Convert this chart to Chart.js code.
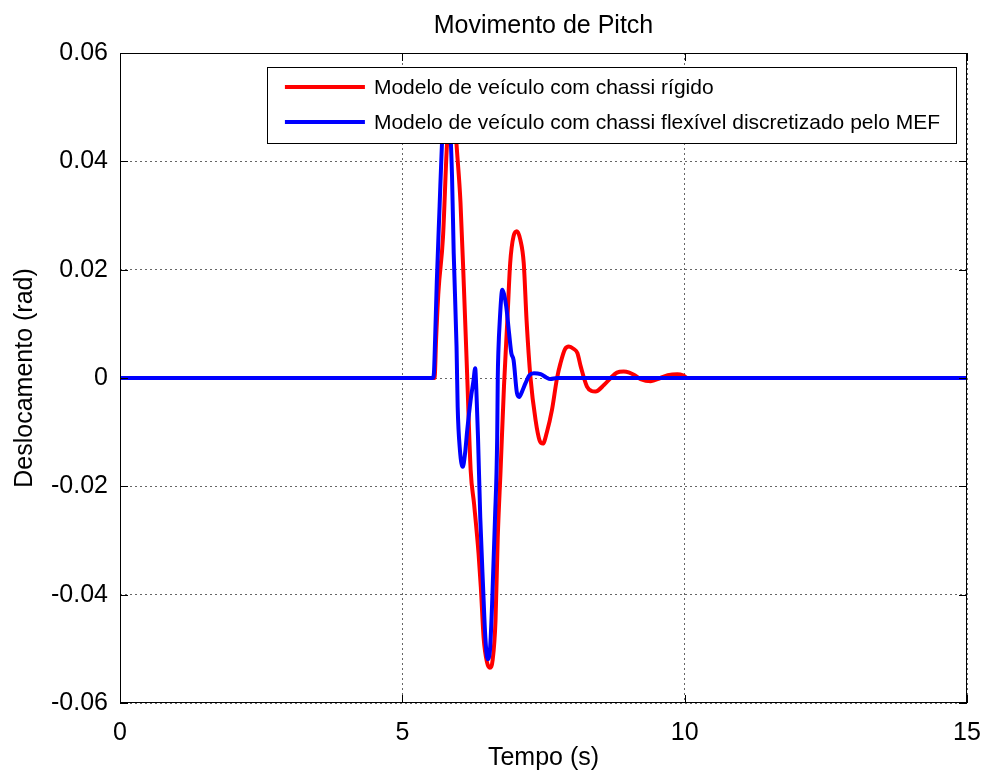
<!DOCTYPE html>
<html>
<head>
<meta charset="utf-8">
<script src="https://cdn.jsdelivr.net/npm/chart.js@4.4.1/dist/chart.umd.min.js"></script>
<style>
  body { margin: 0; background: #fff; }
  canvas { display: block; }
</style>
</head>
<body>
<canvas id="pitchChart" width="985" height="778"></canvas>
<script>
const seriesNames = [
    'Modelo de veículo com chassi rígido',
    'Modelo de veículo com chassi flexível discretizado pelo MEF'
];

// rigid chassis model
const rigidTime = [0, 5.57, 5.60, 5.64, 5.72, 5.79, 5.84, 5.88, 5.93, 5.97, 6.03, 6.09, 6.15, 6.21, 6.27,
    6.35, 6.39, 6.44, 6.50, 6.55, 6.60, 6.65, 6.69, 6.74, 6.80, 6.86, 6.91, 6.97, 7.03, 7.09, 7.15, 7.20,
    7.27, 7.36, 7.43, 7.49, 7.56, 7.65, 7.74, 7.80, 7.88, 7.95, 8.03, 8.10, 8.16, 8.27, 8.35, 8.42, 8.57,
    8.69, 8.80, 8.92, 9.02, 9.10, 9.22, 9.40, 9.57, 9.70, 9.87, 9.97, 10.05, 15];
const rigidPitch = [0, 0, 0.0077, 0.016, 0.026, 0.043, 0.049, 0.050, 0.047, 0.0416, 0.0324, 0.0169, 0, -0.017, -0.0232,
    -0.0324, -0.0386, -0.048, -0.0525, -0.0535, -0.052, -0.0448, -0.0294, -0.017, -0.0016, 0.0107, 0.0212, 0.0262, 0.0271, 0.0255, 0.0212, 0.0107,
    0, -0.0078, -0.0115, -0.0121, -0.0100, -0.0059, 0, 0.0027, 0.0053, 0.0058, 0.0054, 0.0046, 0.0021, -0.0016, -0.0024, -0.0025, -0.0013,
    0, 0.0010, 0.0012, 0.0010, 0.0006, -0.0002, -0.0006, 0, 0.0005, 0.0007, 0.0005, 0, 0];

// flexible chassis (FEM) model
const flexTime = [0, 5.54, 5.56, 5.58, 5.61, 5.66, 5.70, 5.74, 5.78, 5.83, 5.88, 5.91, 5.96, 5.98, 6.02, 6.07,
    6.11, 6.15, 6.21, 6.26, 6.29, 6.31, 6.34, 6.38, 6.43, 6.47, 6.51, 6.55, 6.59, 6.64, 6.68, 6.69, 6.70,
    6.73, 6.77, 6.80, 6.84, 6.89, 6.93, 6.97, 7.03, 7.07, 7.12, 7.18, 7.25, 7.33, 7.45, 7.55, 7.62, 7.74, 15];
const flexPitch = [0, 0, 0.001, 0.007, 0.0176, 0.0317, 0.0428, 0.049, 0.051, 0.049, 0.0373, 0.023, 0.0058, -0.0053, -0.0133, -0.0164,
    -0.0140, -0.0096, -0.0040, -0.0005, 0.0018, -0.002, -0.0109, -0.0257, -0.0386, -0.0479, -0.0519, -0.0505, -0.0417, -0.0263, -0.0109, 0, 0.0046,
    0.0114, 0.0163, 0.0155, 0.0132, 0.0083, 0.0046, 0.0033, -0.0028, -0.0035, -0.0025, -0.0010, 0.0005, 0.0009, 0.0007, 0.0001, -0.0002, 0, 0];

const xTicks = [0, 5, 10, 15];
const yTicks = [-0.06, -0.04, -0.02, 0, 0.02, 0.04, 0.06];
const yTickLabels = ['-0.06', '-0.04', '-0.02', '0', '0.02', '0.04', '0.06'];

const FONT = 'Liberation Sans, Arial, sans-serif';
const colors = ['#ff0000', '#0000ff'];

const toPoints = (ts, vs) => ts.map((t, i) => ({ x: t, y: vs[i] }));

// matlab-like frame with inward ticks
const framePlugin = {
    id: 'frame',
    afterDatasetsDraw(chart) {
        const { ctx, chartArea: a, scales } = chart;
        ctx.save();
        ctx.strokeStyle = '#000';
        ctx.lineWidth = 1;
        ctx.strokeRect(a.left + 0.5, a.top + 0.5, a.right - a.left - 1, a.bottom - a.top - 1);
        const len = 8;
        ctx.beginPath();
        xTicks.forEach(v => {
            const x = Math.round(scales.x.getPixelForValue(v)) + 0.5;
            ctx.moveTo(x, a.bottom); ctx.lineTo(x, a.bottom - len);
            ctx.moveTo(x, a.top); ctx.lineTo(x, a.top + len);
        });
        yTicks.forEach(v => {
            const y = Math.round(scales.y.getPixelForValue(v)) + 0.5;
            ctx.moveTo(a.left, y); ctx.lineTo(a.left + len, y);
            ctx.moveTo(a.right, y); ctx.lineTo(a.right - len, y);
        });
        ctx.stroke();
        ctx.restore();
    }
};

// legend box inside the plot, top right
const boxLegendPlugin = {
    id: 'boxLegend',
    afterDatasetsDraw(chart) {
        const { ctx, chartArea: a } = chart;
        ctx.save();
        ctx.font = '21px ' + FONT;
        const textW = Math.max(...seriesNames.map(n => ctx.measureText(n).width));
        const lineLen = 80, padL = 18, gap = 9, padR = 16;
        const w = padL + lineLen + gap + textW + padR;
        const h = 76;
        const right = a.right - 11;
        const left = right - w;
        const top = a.top + 14;
        ctx.fillStyle = '#fff';
        ctx.fillRect(left, top, w, h);
        ctx.strokeStyle = '#000';
        ctx.lineWidth = 1;
        ctx.strokeRect(Math.round(left) + 0.5, top + 0.5, Math.round(w), h);
        seriesNames.forEach((name, i) => {
            const y = top + 20 + i * 35;
            ctx.strokeStyle = colors[i];
            ctx.lineWidth = 4;
            ctx.beginPath();
            ctx.moveTo(left + padL, y);
            ctx.lineTo(left + padL + lineLen, y);
            ctx.stroke();
            ctx.fillStyle = '#000';
            ctx.textBaseline = 'middle';
            ctx.fillText(name, left + padL + lineLen + gap, y + 1);
        });
        ctx.restore();
    }
};

new Chart(document.getElementById('pitchChart'), {
    type: 'line',
    data: {
        datasets: [
            {
                label: seriesNames[0],
                data: toPoints(rigidTime, rigidPitch),
                borderColor: colors[0],
                borderWidth: 4,
                pointRadius: 0,
                cubicInterpolationMode: 'monotone',
                order: 1
            },
            {
                label: seriesNames[1],
                data: toPoints(flexTime, flexPitch),
                borderColor: colors[1],
                borderWidth: 4,
                pointRadius: 0,
                cubicInterpolationMode: 'monotone',
                order: 0
            }
        ]
    },
    options: {
        responsive: false,
        animation: false,
        layout: { padding: { left: 0, right: 18, top: 0, bottom: 0 } },
        plugins: {
            legend: { display: false },
            tooltip: { enabled: false },
            title: {
                display: true,
                fullSize: false,
                text: 'Movimento de Pitch',
                color: '#000',
                font: { family: FONT, size: 25, weight: 'normal' },
                padding: { top: 11, bottom: 12 }
            }
        },
        scales: {
            x: {
                type: 'linear',
                min: 0,
                max: 15,
                afterBuildTicks: scale => { scale.ticks = xTicks.map(v => ({ value: v })); },
                afterFit: scale => {
                    scale.height = 75;
                    scale.paddingLeft = 0;
                    scale.paddingRight = 0;
                },
                ticks: {
                    color: '#000',
                    font: { family: FONT, size: 25 },
                    padding: 15,
                    maxRotation: 0,
                    callback: v => String(v)
                },
                grid: { color: 'rgba(0,0,0,0.6)', lineWidth: 1, drawTicks: false },
                border: { display: false, dash: [2, 3] },
                title: {
                    display: true,
                    text: 'Tempo (s)',
                    color: '#000',
                    font: { family: FONT, size: 25 },
                    padding: { top: 0, bottom: 5 }
                }
            },
            y: {
                min: -0.06,
                max: 0.06,
                afterBuildTicks: scale => { scale.ticks = yTicks.map(v => ({ value: v })); },
                afterFit: scale => { scale.width = 120; },
                ticks: {
                    color: '#000',
                    font: { family: FONT, size: 25 },
                    padding: 12,
                    callback: v => yTickLabels[yTicks.findIndex(t => Math.abs(t - v) < 1e-9)]
                },
                grid: { color: 'rgba(0,0,0,0.6)', lineWidth: 1, drawTicks: false },
                border: { display: false, dash: [2, 3] },
                title: {
                    display: true,
                    text: 'Deslocamento (rad)',
                    color: '#000',
                    font: { family: FONT, size: 25 },
                    padding: { top: 10, bottom: 0 }
                }
            }
        }
    },
    plugins: [framePlugin, boxLegendPlugin]
});
</script>
</body>
</html>
